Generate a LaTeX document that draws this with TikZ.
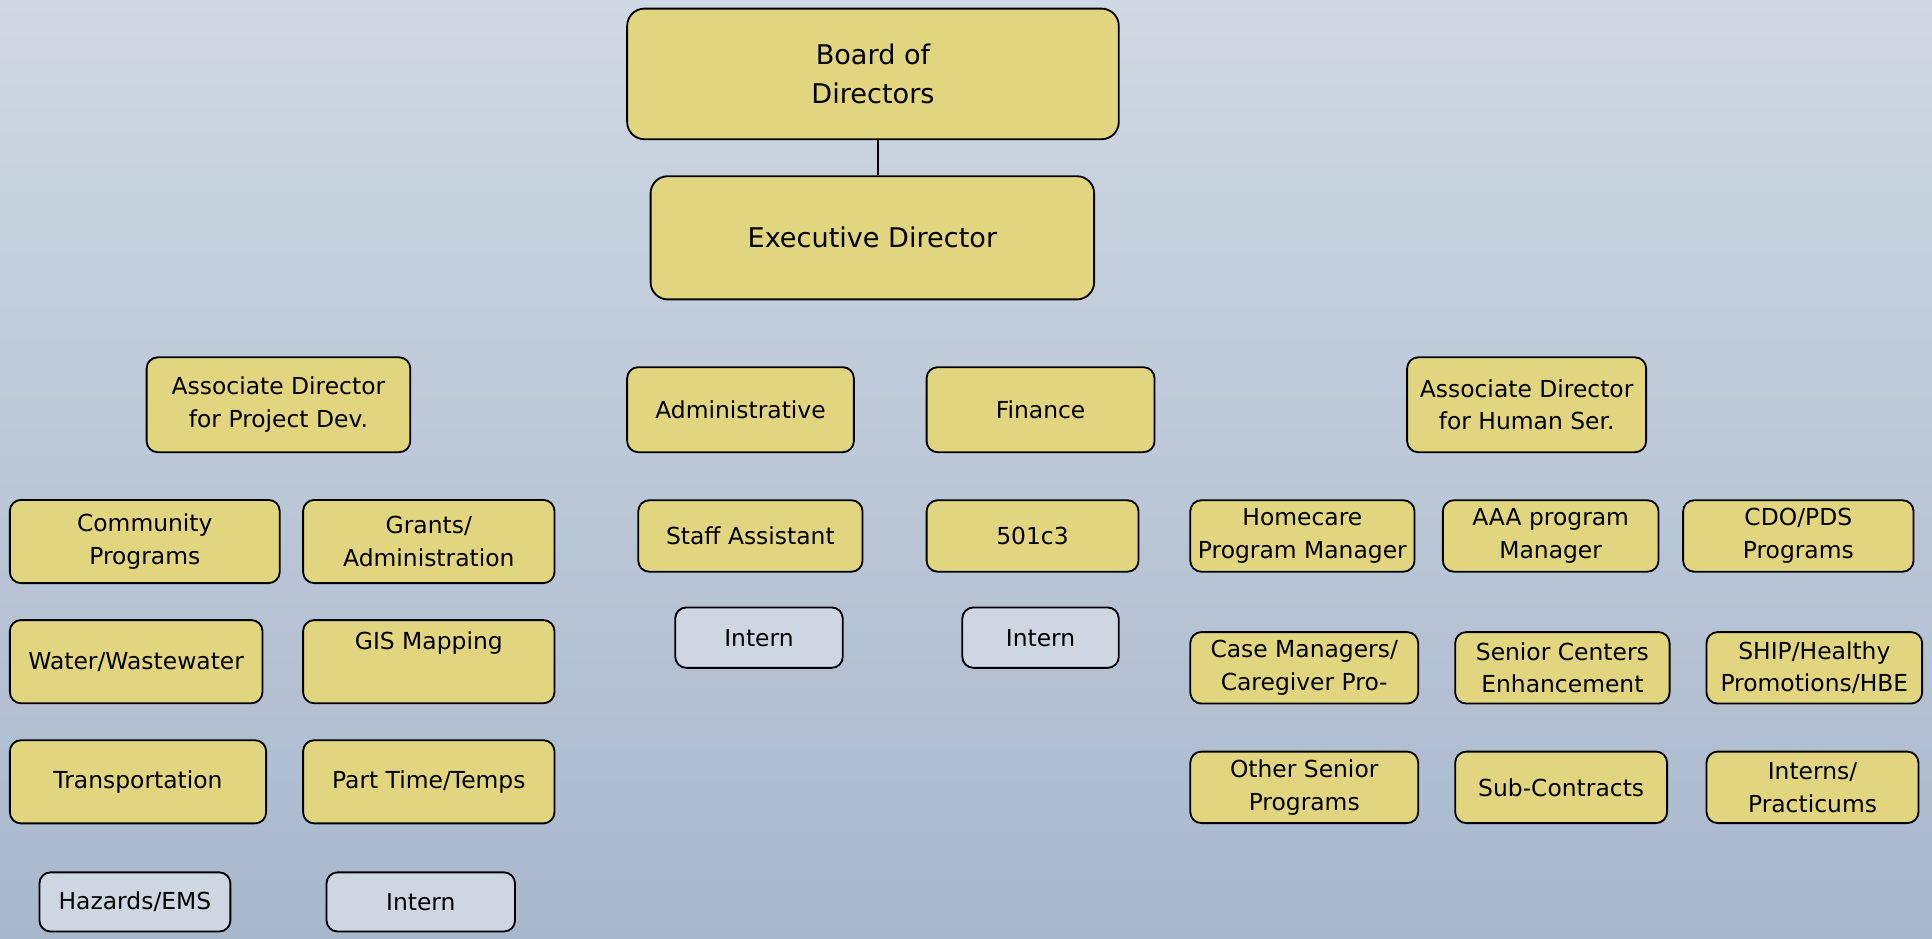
\documentclass[tikz,border=0pt]{standalone}
\usepackage{fontspec}
\setmainfont{DejaVu Sans}

\definecolor{boxyellow}{RGB}{226,213,128}
\definecolor{boxgray}{RGB}{206,214,225}
\definecolor{bgtop}{RGB}{207,216,227}
\definecolor{bgbottom}{RGB}{168,184,204}

\begin{document}
\begin{tikzpicture}[x=1pt,y=-1pt,
    unit/.style={draw=black, line width=1.5pt, rounded corners=9pt, fill=boxyellow,
        align=center, inner sep=0pt, font=\fontsize{19}{26.5}\selectfont},
    intern/.style={unit, fill=boxgray},
    head/.style={unit, rounded corners=14pt, font=\fontsize{22}{31}\selectfont}]

    % Background with the page size fixed
    \shade [top color=bgtop, bottom color=bgbottom] (0,0) rectangle (1568,762);
    \useasboundingbox (0,0) rectangle (1568,762);

    % Board and director
    \node [head, minimum width=399pt, minimum height=106pt] (board) at (708.5,60) {Board of\\Directors};
    \node [head, minimum width=360pt, minimum height=100pt] (exec) at (708,193) {Executive Director};
    \draw [line width=1.2pt] ([xshift=4pt]board.south) -- ([xshift=4pt]board.south |- exec.north);

    % Second row
    \node [unit, minimum width=214pt, minimum height=77pt] (pdassoc) at (226,328.5) {Associate Director\\for Project Dev.};
    \node [unit, minimum width=184pt, minimum height=69pt] (admin) at (601,332.5) {Administrative};
    \node [unit, minimum width=185pt, minimum height=69pt] (finance) at (844.5,332.5) {Finance};
    \node [unit, minimum width=194pt, minimum height=77pt] (hsassoc) at (1239,328.5) {Associate Director\\for Human Ser.};

    % Project development units
    \foreach \n/\x/\y/\w/\txt in {
        community/117.5/439.5/219/{Community\\Programs},
        grants/348/439.5/204/{Grants/\\Administration},
        water/110.5/537/205/{Water/Wastewater},
        gis/348/537/204/{GIS Mapping\\\strut},
        transport/112/634.5/208/{Transportation},
        parttime/348/634.5/204/{Part Time/Temps}} {
        \node [unit, minimum width=\w pt, minimum height=67.5pt] (\n) at (\x,\y) {\txt};
    }
    \node [intern, minimum width=155pt, minimum height=48pt] (hazards) at (109.5,732) {Hazards/EMS};
    \node [intern, minimum width=153pt, minimum height=48pt] (pdintern) at (341.5,732) {Intern};

    % Administrative and finance staff
    \node [unit, minimum width=182pt, minimum height=58pt] (staff) at (609,435) {Staff Assistant};
    \node [unit, minimum width=172pt, minimum height=58pt] (nonprofit) at (838,435) {501c3};
    \node [intern, minimum width=136pt, minimum height=49pt] (adminintern) at (616,517.5) {Intern};
    \node [intern, minimum width=127pt, minimum height=49pt] (finintern) at (844.5,517.5) {Intern};

    % Human services units
    \foreach \n/\x/\y/\w/\txt in {
        homecare/1057/435/182/{Homecare\\Program Manager},
        aaa/1258.5/435/175/{AAA program\\Manager},
        cdo/1459.5/435/187/{CDO/PDS\\Programs},
        casemgr/1058.5/542/185/{Case Managers/\\Caregiver Pro-},
        senior/1268/542/174/{Senior Centers\\Enhancement},
        ship/1472.5/542/175/{SHIP/Healthy\\Promotions/HBE},
        other/1058.5/639/185/{Other Senior\\Programs},
        contracts/1267/639/172/{Sub-Contracts},
        practicum/1471/639/172/{Interns/\\Practicums}} {
        \node [unit, minimum width=\w pt, minimum height=58pt] (\n) at (\x,\y) {\txt};
    }

\end{tikzpicture}
\end{document}
